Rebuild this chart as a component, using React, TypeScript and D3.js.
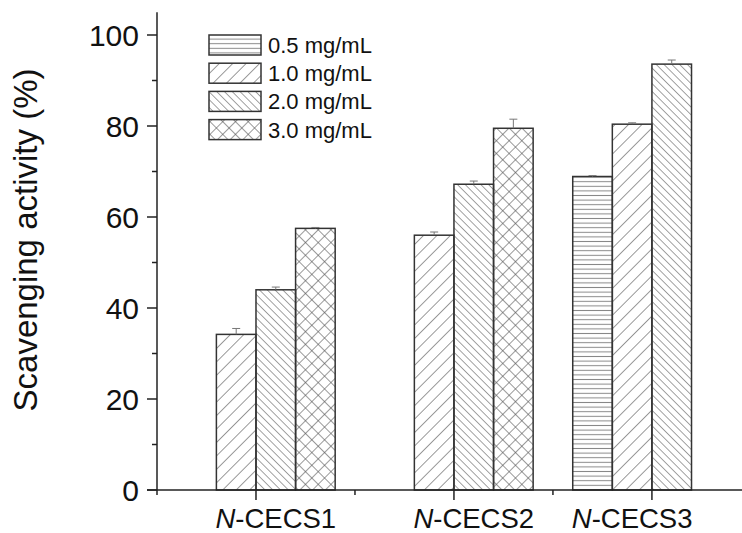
import React from "react";
import * as d3 from "d3";

const categories = ["N-CECS1", "N-CECS2", "N-CECS3"];
const seriesNames = ["0.5 mg/mL", "1.0 mg/mL", "2.0 mg/mL", "3.0 mg/mL"];
const values05: (number | null)[] = [null, null, 68.9];
const values10: (number | null)[] = [34.2, 56.0, 80.4];
const values20: (number | null)[] = [44.0, 67.2, 93.6];
const values30: (number | null)[] = [57.5, 79.5, null];
const errors05: (number | null)[] = [null, null, 0.2];
const errors10: (number | null)[] = [1.3, 0.7, 0.3];
const errors20: (number | null)[] = [0.6, 0.7, 0.9];
const errors30: (number | null)[] = [0.2, 2.0, null];
const yTicks = [0, 20, 40, 60, 80, 100];
const yMinorTicks = [10, 30, 50, 70, 90];

const seriesValues = [values05, values10, values20, values30];
const seriesErrors = [errors05, errors10, errors20, errors30];
const patternIds = ["pH", "pF", "pB", "pX"];

const W = 742;
const H = 533;
const FONT = "'Liberation Sans', Arial, sans-serif";

export default function App() {
  const x = d3.scaleLinear().domain([0.5, 3.455]).range([157, 742]);
  const y = d3.scaleLinear().domain([0, 105]).range([490, 12.25]);
  const barW = 0.2;
  const bw = x(barW) - x(0);
  const stroke = "#333";

  const bars: React.ReactNode[] = [];
  const errs: React.ReactNode[] = [];
  const labelPos: number[] = [];
  categories.forEach((c, i) => {
    const centers: number[] = [];
    seriesValues.forEach((vals, k) => {
      const v = vals[i];
      if (v == null) return;
      const cx = i + 1 + (k - 1.5) * barW;
      centers.push(cx);
      const x0 = x(cx - barW / 2);
      const e = seriesErrors[k][i] ?? 0;
      bars.push(
        <rect
          key={`b${i}-${k}`}
          x={x0}
          y={y(v)}
          width={bw}
          height={y(0) - y(v)}
          fill={`url(#${patternIds[k]})`}
          stroke={stroke}
          strokeWidth={1.5}
        />
      );
      if (e > 0) {
        const xc = x(cx);
        errs.push(
          <g key={`e${i}-${k}`} stroke="#777" strokeWidth={1}>
            <line x1={xc} x2={xc} y1={y(v)} y2={y(v + e)} />
            <line x1={xc - 4} x2={xc + 4} y1={y(v + e)} y2={y(v + e)} />
          </g>
        );
      }
    });
    labelPos.push(x(d3.mean(centers) as number));
  });

  const legendTop = 35;
  const legendStep = 28.2;

  return (
    <svg width={W} height={H} style={{ position: "absolute", left: 0, top: 0, background: "#fff" }}>
      <defs>
        <pattern id="pH" patternUnits="userSpaceOnUse" width={10} height={4.6}>
          <line x1={0} x2={10} y1={2.3} y2={2.3} stroke="#888" strokeWidth={1} />
        </pattern>
        <pattern id="pF" patternUnits="userSpaceOnUse" width={9.5} height={9.5} patternTransform="rotate(45)">
          <line x1={0} x2={0} y1={0} y2={9.5} stroke="#555" strokeWidth={1.2} />
        </pattern>
        <pattern id="pB" patternUnits="userSpaceOnUse" width={5.5} height={5.5} patternTransform="rotate(-45)">
          <line x1={0} x2={0} y1={0} y2={5.5} stroke="#555" strokeWidth={1.1} />
        </pattern>
        <pattern id="pX" patternUnits="userSpaceOnUse" width={9} height={9} patternTransform="rotate(45)">
          <line x1={0} x2={0} y1={0} y2={9} stroke="#555" strokeWidth={1.2} />
          <line x1={0} x2={9} y1={0} y2={0} stroke="#555" strokeWidth={1.2} />
        </pattern>
      </defs>

      {bars}
      {errs}

      <g stroke="#222" strokeWidth={1.5}>
        <line x1={x(0.5)} x2={x(0.5)} y1={y(105)} y2={y(0) + 5} />
        <line x1={x(0.5) - 10} x2={W} y1={y(0)} y2={y(0)} />
        {yTicks.map((t) => (
          <line key={`yt${t}`} x1={x(0.5) - 10} x2={x(0.5)} y1={y(t)} y2={y(t)} />
        ))}
        {yMinorTicks.map((t) => (
          <line key={`ym${t}`} x1={x(0.5) - 5} x2={x(0.5)} y1={y(t)} y2={y(t)} />
        ))}
        {categories.map((c, i) => (
          <line key={`xt${i}`} x1={x(i + 1)} x2={x(i + 1)} y1={y(0)} y2={y(0) + 10} />
        ))}
        {categories.slice(0, -1).map((c, i) => (
          <line key={`xm${i}`} x1={x(i + 1.5)} x2={x(i + 1.5)} y1={y(0)} y2={y(0) + 5} />
        ))}
      </g>

      {yTicks.map((t) => (
        <text
          key={`yl${t}`}
          x={x(0.5) - 18}
          y={y(t)}
          dy="0.36em"
          textAnchor="end"
          fontFamily={FONT}
          fontSize={30}
          fill="#111"
        >
          {t}
        </text>
      ))}

      {categories.map((c, i) => {
        const idx = c.indexOf("-");
        return (
          <text
            key={`xl${i}`}
            x={labelPos[i]}
            y={528}
            textAnchor="middle"
            fontFamily={FONT}
            fontSize={27.5}
            fill="#111"
          >
            <tspan fontStyle="italic">{c.slice(0, idx)}</tspan>
            <tspan>{c.slice(idx)}</tspan>
          </text>
        );
      })}

      <text
        transform={`translate(37,240) rotate(-90)`}
        textAnchor="middle"
        fontFamily={FONT}
        fontSize={33}
        fill="#111"
      >
        Scavenging activity (%)
      </text>

      {seriesNames.map((s, k) => {
        const top = legendTop + k * legendStep;
        return (
          <g key={`lg${k}`}>
            <rect
              x={209}
              y={top}
              width={52}
              height={20}
              fill={`url(#${patternIds[k]})`}
              stroke={stroke}
              strokeWidth={1.5}
            />
            <text x={268} y={top + 18} fontFamily={FONT} fontSize={22} fill="#111">
              {s}
            </text>
          </g>
        );
      })}
    </svg>
  );
}
